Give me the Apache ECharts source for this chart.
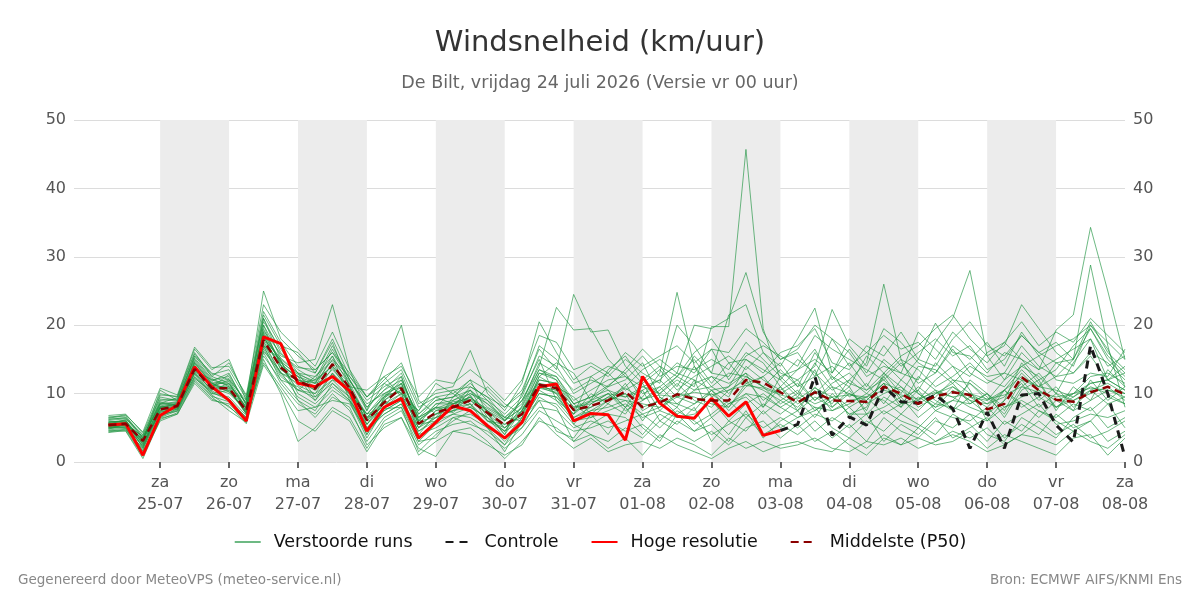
<!DOCTYPE html>
<html>
<head>
<meta charset="utf-8">
<script src="https://cdn.jsdelivr.net/npm/echarts@6/dist/echarts.min.js"></script>
<style>html,body{margin:0;padding:0;background:#fff;}#c{width:1200px;height:600px;}</style>
</head>
<body>
<div id="c"></div>
<script>
// Time in days since 24-07 00:00; first value at 24-07 06:00, every 6 hours
var startDay = 0.25, stepDay = 0.25;
var tickDays = [1,2,3,4,5,6,7,8,9,10,11,12,13,14,15];
var tickDayNames = ['za','zo','ma','di','wo','do','vr','za','zo','ma','di','wo','do','vr','za'];
var tickDates = ['25-07','26-07','27-07','28-07','29-07','30-07','31-07','01-08','02-08','03-08','04-08','05-08','06-08','07-08','08-08'];
var shadedDays = [[1,2],[3,4],[5,6],[7,8],[9,10],[11,12],[13,14]];

var hoogResolutie = [5.4,5.6,1.0,6.8,8.3,13.9,11.0,9.0,6.0,18.3, 17.3,11.5,11.0,12.5,10.4,4.5,8.0,9.3,3.5,5.8, 8.2,7.5,5.3,3.5,5.8,11.0,11.4,6.0,7.1,6.9, 3.2,12.5,8.6,6.7,6.4,9.3,6.7,8.8,3.9,4.6];
// control starts where high-resolution ends (index 39)
var controleStart = 39;
var controle = [4.6,5.5,12.5,3.9,6.6,5.4,11.0,8.8,8.6,9.8,7.8,2.0,7.3,2.0,9.8,10.0,5.4,2.9,17.0,10.0,0.7];
var middelste = [5.4,5.6,3.1,7.7,8.2,13.6,10.8,10.8,7.5,17.8, 13.8,11.9,10.7,14.3,10.8,6.1,8.7,10.8,5.6,7.2, 8.0,9.0,7.2,5.4,7.0,11.3,10.8,7.6,8.2,9.0, 10.3,8.0,8.7,9.9,9.2,9.0,9.0,12.0,11.6,10.2, 8.7,10.2,9.0,8.9,8.8,11.0,10.0,8.5,9.6,10.2, 9.8,7.7,8.5,12.4,10.5,9.1,8.8,10.2,11.0,9.9];

var run01 = [5.8,6.0,2.5,8.5,8.8,14.5,11.5,10.2,7.8,19.5, 14.2,12.5,11.0,15.5,11.2,5.5,9.2,12.0,6.5,8.0, 7.2,9.8,6.0,4.5,8.2,13.5,12.0,8.5,9.5,11.2, 13.0,9.0,10.5,12.5,11.0,19.8,19.8,45.7,19.5,12.0, 9.5,13.5,8.0,10.5,7.5,13.0,11.0,9.0,12.0,14.0, 10.5,6.0,9.0,14.5,11.5,8.0,10.0,12.5,13.0,11.5];
var run02 = [5.2,5.0,3.5,7.0,8.0,13.0,10.5,11.5,8.0,17.0, 15.0,13.0,9.5,13.0,10.0,7.0,8.0,9.5,6.0,6.5, 9.0,10.5,8.0,6.5,6.0,10.0,9.5,7.0,10.0,8.5, 11.5,7.5,9.0,8.5,10.5,11.0,9.5,14.0,12.0,10.5, 12.0,9.0,11.5,13.0,10.5,12.0,9.5,10.5,14.5,12.0, 11.5,9.0,12.0,16.0,13.5,19.3,21.5,34.3,25.0,15.0];
var run03 = [6.2,6.5,4.0,9.5,9.0,15.0,12.0,12.5,8.5,21.0, 16.0,13.5,12.0,17.0,12.0,8.0,10.5,13.0,7.0,9.0, 9.5,11.5,9.0,7.0,9.5,15.5,14.0,10.0,11.5,13.0, 10.5,12.0,14.0,11.0,15.5,13.0,12.5,16.0,14.5,11.0, 13.5,16.5,12.0,14.5,11.0,15.0,13.0,12.0,17.5,21.0, 28.0,15.5,12.0,14.0,12.5,10.0,14.5,18.0,12.0,14.0];
var run04 = [4.8,5.5,1.5,6.5,7.5,12.5,10.0,9.5,6.8,16.5, 12.5,10.5,10.0,12.0,9.5,4.0,7.5,9.0,4.5,6.0, 7.0,8.0,6.5,3.5,6.5,11.0,10.0,6.0,7.5,8.0, 9.0,7.0,8.0,9.5,8.5,10.0,8.0,11.5,10.5,9.0, 7.5,11.0,8.5,12.0,14.5,26.0,15.0,10.0,8.5,11.0, 9.0,7.0,10.5,13.5,11.0,12.5,15.0,28.8,17.0,8.0];
var run05 = [6.0,5.8,3.0,10.5,9.0,15.5,13.0,12.0,9.0,25.0, 18.0,15.5,13.5,16.0,13.0,9.5,12.0,14.5,8.5,10.0, 10.5,11.0,9.5,8.0,10.5,16.5,13.5,24.5,19.0,19.3, 14.0,11.5,13.5,10.5,12.5,14.0,15.5,13.5,16.0,14.0, 18.0,22.5,13.0,16.5,13.0,17.0,14.0,16.0,18.0,15.5, 17.0,13.5,15.0,18.5,16.0,14.5,15.0,20.5,16.0,13.5];
var run06 = [5.5,6.2,2.0,8.0,8.5,14.0,11.0,11.0,7.5,18.5, 13.5,12.0,10.5,14.5,10.5,6.0,9.0,11.0,5.0,7.5, 8.5,9.0,7.0,5.0,7.0,12.0,11.5,8.0,8.5,10.0, 8.0,9.5,13.0,24.8,14.0,11.0,13.0,12.5,11.0,8.5, 10.0,8.5,9.5,7.0,8.0,12.5,9.0,7.5,10.0,11.5, 8.5,10.0,7.5,12.0,9.0,11.0,8.0,10.5,11.5,10.0];
var run07 = [5.0,5.2,1.8,7.5,8.0,13.5,11.5,10.5,7.0,20.0, 15.5,14.5,15.0,23.0,13.5,7.5,14.0,20.0,9.0,7.0, 8.0,9.5,7.5,6.0,9.0,14.0,22.6,19.3,19.5,15.0, 12.5,11.0,12.0,14.5,13.0,16.5,12.0,15.5,17.0,15.5, 14.0,18.5,16.5,15.0,13.5,12.0,14.5,11.5,13.0,16.5, 13.0,11.5,13.0,17.0,14.0,12.5,13.0,16.0,14.5,12.0];
var run08 = [4.5,4.8,1.0,6.0,7.0,11.5,9.0,8.5,6.0,15.0, 10.0,3.0,5.0,8.0,6.5,2.0,6.0,7.5,2.5,4.5, 5.5,6.0,4.0,2.0,4.0,7.5,6.0,4.5,5.0,6.0, 4.5,5.5,3.5,6.0,4.5,5.5,3.0,6.5,4.0,5.5, 4.0,6.0,3.5,5.5,3.0,6.5,4.5,3.5,6.0,5.0, 7.0,4.0,3.0,6.5,5.0,3.5,6.5,8.0,5.0,6.5];
var run09 = [6.8,7.0,4.2,10.0,9.5,16.0,12.5,14.5,9.5,20.5, 16.5,13.0,11.5,15.0,12.5,9.0,11.0,12.5,6.0,8.5, 9.0,10.0,8.5,6.0,8.0,13.0,12.5,8.5,6.5,8.5, 7.0,10.5,6.0,8.0,5.5,7.0,9.0,6.5,8.5,7.0, 9.0,6.5,10.0,8.0,9.5,7.0,8.5,11.0,9.0,7.5, 9.5,8.0,10.5,8.5,6.5,9.0,7.5,9.0,10.5,9.5];
var run10 = [5.6,5.4,3.8,8.2,8.6,14.8,11.8,13.0,8.2,19.0, 14.8,10.0,8.5,11.0,9.0,5.0,7.0,8.5,4.0,5.0, 6.5,7.0,5.5,3.0,5.5,9.0,8.5,5.5,4.0,3.0, 5.0,3.5,6.0,4.5,3.0,4.5,2.5,5.0,6.0,3.5, 5.5,3.0,4.5,2.5,1.0,3.5,2.5,5.0,3.0,4.5, 3.5,5.0,2.5,4.0,6.0,4.0,5.5,3.5,4.5,6.0];
var run11 = [5.3,5.5,2.8,7.2,8.0,13.8,10.2,9.0,6.5,17.0, 12.0,11.0,9.0,13.0,10.5,5.0,8.0,10.0,3.5,6.0, 8.0,11.0,9.5,6.5,9.0,11.5,10.0,7.0,9.0,11.0, 12.0,14.5,9.5,8.0,12.0,6.5,8.5,10.0,8.0,11.0, 8.5,10.0,12.5,9.5,11.5,8.5,12.0,10.0,8.0,9.0, 11.5,9.5,7.0,11.0,13.0,10.0,7.5,12.0,9.0,11.0];
var run12 = [4.6,4.5,0.5,6.2,7.2,12.0,9.5,7.5,5.8,16.0, 11.5,8.5,7.0,10.0,7.5,3.0,6.5,8.0,1.5,4.0, 6.0,7.5,5.0,2.5,5.0,9.5,8.0,3.0,5.5,7.0, 6.5,4.0,7.0,5.5,8.0,3.0,6.0,4.5,7.5,5.0, 6.5,8.0,5.0,3.5,6.0,4.5,7.0,5.5,4.0,7.0, 5.5,3.0,6.0,4.5,7.5,6.0,4.5,6.0,8.5,5.0];
var run13 = [6.4,6.8,3.5,9.0,9.2,15.2,12.2,11.0,8.8,21.5, 17.0,16.0,13.0,17.5,11.0,10.5,12.5,9.5,7.5,10.5, 11.0,16.3,10.0,7.5,11.5,20.5,16.0,12.0,14.0,12.5, 15.0,13.0,11.5,20.0,17.0,13.0,21.5,23.0,16.0,13.0, 12.0,14.0,22.3,17.0,14.0,19.5,17.5,14.5,13.0,17.0, 15.0,17.5,14.0,19.0,15.5,17.0,18.0,20.0,17.5,15.0];
var run14 = [5.9,6.0,3.2,8.0,8.4,13.2,11.2,11.8,7.2,17.5, 13.0,11.5,12.0,14.0,11.5,6.5,9.5,10.5,6.5,8.0, 10.5,8.5,6.0,5.5,6.5,12.5,11.0,9.5,7.0,9.0, 10.0,8.0,9.0,11.5,9.0,8.0,10.5,12.0,9.0,11.0, 7.5,9.5,8.0,10.0,8.5,10.0,11.0,8.0,9.5,12.0, 10.0,8.5,9.5,13.0,10.5,9.0,10.0,11.5,12.0,10.5];
var run15 = [5.1,5.3,2.2,7.8,8.2,14.2,10.8,10.0,7.6,18.8, 14.5,12.0,11.5,12.5,10.0,7.0,9.5,11.5,5.5,7.0, 8.5,9.5,7.0,4.0,7.5,11.0,10.5,6.5,8.0,9.5, 11.0,13.5,15.0,13.0,20.0,19.5,21.0,27.7,19.0,15.0, 16.0,12.5,18.0,16.0,12.5,14.0,13.0,19.0,16.5,14.0, 12.5,16.0,17.5,15.0,12.0,13.5,17.0,19.5,15.5,13.0];
var run16 = [4.9,5.0,1.2,6.8,7.6,12.8,9.8,8.0,6.2,15.5, 12.0,9.0,6.5,9.5,8.0,2.5,5.0,6.5,2.0,0.8, 4.5,5.0,3.0,0.5,3.0,6.0,5.0,3.0,4.0,2.0, 3.5,1.0,4.0,2.5,1.5,0.5,2.0,3.0,1.5,2.5, 3.0,2.0,1.5,3.5,2.0,4.0,2.5,3.5,2.5,3.0, 4.5,2.0,4.0,3.0,2.0,1.0,3.5,4.0,1.0,3.5];
var run17 = [6.1,6.3,3.9,9.2,8.9,14.0,11.0,12.8,8.4,18.0, 15.2,13.0,12.5,14.8,11.8,8.5,10.0,11.5,7.0,9.5, 8.5,10.0,9.0,6.0,9.0,13.5,12.5,9.0,10.5,12.0, 12.5,10.0,11.0,13.0,12.0,10.5,11.0,15.0,13.5,12.0, 15.0,13.0,10.5,12.0,10.0,12.5,15.0,13.5,11.0,12.5, 14.5,12.0,11.0,14.0,15.5,12.0,11.5,13.0,12.5,16.5];
var run18 = [5.7,5.9,2.6,7.4,7.8,13.0,10.0,10.5,7.2,16.8, 12.8,10.5,9.5,11.5,9.5,6.0,8.5,9.0,5.0,6.5, 7.5,8.0,6.5,4.5,6.0,10.5,9.0,6.0,6.5,7.5, 8.5,6.5,7.5,6.5,7.0,9.0,6.0,8.5,10.0,8.0, 6.5,7.5,9.5,7.0,7.0,8.0,9.5,6.5,8.5,8.0, 7.0,6.0,8.0,9.0,7.5,6.5,8.5,7.5,9.5,8.5];
var run19 = [5.4,5.6,3.3,8.8,8.3,13.4,12.0,11.2,8.0,17.2, 13.0,12.0,11.0,13.5,10.8,6.5,9.0,10.5,6.0,8.0, 8.0,9.0,7.5,5.0,7.5,11.5,11.0,8.0,9.0,10.0, 9.5,11.0,10.0,12.0,10.5,12.5,11.5,13.0,11.0,13.5, 11.0,12.5,14.0,11.5,10.5,13.0,15.5,17.0,19.5,21.5, 18.0,15.5,17.0,23.0,19.5,16.0,14.0,20.0,16.5,11.0];
var run20 = [4.4,4.7,2.0,7.0,7.4,12.2,10.4,9.2,6.5,14.5, 11.0,7.5,8.0,9.0,8.5,4.5,7.0,8.5,3.0,5.5, 7.0,6.5,5.0,3.5,5.0,8.0,7.5,5.0,6.0,5.0, 6.0,7.0,5.0,7.5,6.0,4.0,5.5,7.0,5.0,6.5, 5.0,7.0,6.0,8.0,5.5,7.5,6.0,5.0,7.5,6.5, 6.0,8.0,5.5,7.0,8.5,5.5,6.0,7.0,6.5,7.5];
var run21 = [6.6,6.6,3.6,8.6,9.4,15.8,12.8,13.5,9.2,22.0, 17.5,14.0,13.0,18.0,12.5,9.5,11.5,13.5,8.0,9.5, 10.0,12.0,10.5,8.0,10.0,17.0,15.0,11.5,12.5,14.0, 13.0,15.5,12.5,14.0,13.5,15.0,13.5,17.5,15.0,12.5, 13.5,15.0,13.0,18.0,16.0,14.5,12.0,15.0,20.3,16.0, 15.5,13.0,16.0,15.0,13.5,15.0,16.5,18.0,14.0,15.5];
var run22 = [5.0,5.1,2.4,7.6,7.9,13.0,10.6,10.8,7.0,17.6, 14.0,11.8,10.5,12.8,9.8,5.5,8.5,10.0,5.0,7.5, 8.0,8.5,6.0,5.0,7.0,11.0,10.5,7.5,8.0,9.5, 9.0,8.5,8.0,10.0,9.5,8.5,8.0,11.0,12.5,9.5, 8.0,10.5,7.5,9.0,9.5,11.5,8.5,9.0,10.5,9.5, 8.0,7.0,9.0,11.5,8.0,10.0,9.0,10.0,11.0,9.0];
var run23 = [5.5,5.7,2.9,7.9,8.1,13.6,11.1,10.3,7.4,18.2, 14.8,12.5,9.0,12.0,11.0,6.5,7.5,9.0,4.5,6.5, 7.5,8.5,5.0,1.5,6.0,10.0,9.5,6.5,7.5,9.0, 10.0,6.0,9.5,7.0,8.5,10.5,7.5,10.0,9.5,8.0, 9.5,8.0,7.5,8.5,10.0,9.0,7.0,9.5,8.0,10.5, 9.0,8.5,10.5,8.0,9.5,8.0,9.5,11.0,10.0,8.5];
var run24 = [6.3,6.4,3.4,8.4,8.7,14.4,11.4,12.2,8.6,19.2, 15.8,13.8,13.5,16.0,12.0,8.0,10.5,12.0,6.5,9.0, 9.5,10.5,8.5,6.5,8.5,14.5,13.0,10.5,12.0,11.0, 13.5,16.5,14.0,12.5,16.0,18.0,14.5,15.0,13.0,16.0, 17.0,19.5,14.5,13.5,17.0,15.5,19.0,15.0,14.0,18.0, 20.5,17.0,15.5,18.5,16.0,17.5,15.0,19.5,15.0,12.5];
var run25 = [5.2,5.4,2.7,8.0,8.5,15.5,12.5,11.5,7.8,21.0, 15.0,9.0,7.5,11.5,9.0,4.0,9.5,12.5,5.5,6.0, 9.5,12.0,7.0,4.0,10.0,15.0,9.0,7.0,12.5,10.5, 8.0,11.5,7.5,10.0,14.0,9.5,11.0,13.0,8.0,12.5, 10.0,14.5,11.0,6.5,9.0,11.5,8.0,12.5,10.5,7.5, 12.0,10.0,6.5,10.5,12.0,7.5,11.0,9.0,13.5,11.0];
var run26 = [5.8,6.1,3.0,9.8,9.6,16.5,13.5,15.0,9.0,20.0, 14.0,12.5,11.5,16.5,12.0,7.5,11.5,10.0,7.5,11.5, 10.0,8.0,11.0,8.5,7.0,12.5,14.5,13.0,9.0,13.5, 15.5,12.0,10.0,12.5,15.0,11.5,14.5,11.5,12.5,14.5, 11.0,16.0,12.5,11.0,15.5,13.0,10.0,14.0,13.5,11.5, 14.0,12.5,13.0,12.0,11.0,14.5,13.0,15.5,12.0,13.0];
var run27 = [4.7,4.9,1.6,6.6,7.8,12.4,9.6,8.8,6.4,16.2, 13.2,9.5,8.0,10.5,8.8,3.5,7.8,8.0,3.0,3.5, 6.5,5.5,4.5,2.5,6.5,9.0,4.5,3.5,7.0,4.0, 8.0,5.0,3.0,7.0,4.5,6.5,4.0,7.5,3.5,6.0, 7.5,4.5,6.5,5.0,7.0,3.0,5.5,4.0,6.5,3.5, 5.0,6.5,3.5,5.5,4.0,7.0,5.0,6.0,3.0,4.5];
var run28 = [5.6,5.8,3.6,8.6,8.2,14.6,11.6,11.4,7.8,18.6, 14.6,12.8,11.8,14.0,10.8,7.0,10.0,11.0,5.5,8.5, 8.5,9.5,7.5,5.5,7.5,12.0,11.5,8.5,9.5,10.5, 9.5,10.5,12.0,9.5,11.5,12.5,10.0,12.5,11.0,10.0, 11.5,9.0,11.0,10.0,9.0,11.5,10.5,8.5,10.0,11.0, 9.5,9.0,10.5,12.5,11.0,10.5,9.5,11.5,12.0,10.5];
var run29 = [5.0,5.5,2.3,7.3,7.7,13.3,11.3,10.8,7.1,17.9, 14.2,10.5,12.5,15.5,9.0,5.5,8.0,11.5,4.0,7.0, 7.5,10.5,6.5,4.5,7.5,13.0,12.0,5.5,8.5,10.0, 7.5,9.0,11.0,8.5,7.5,10.5,8.5,9.5,7.0,9.0, 10.5,7.5,9.0,11.0,7.0,9.5,8.0,10.5,7.5,9.0, 8.5,10.0,8.0,9.5,10.5,8.0,9.0,10.5,8.5,9.5];
var run30 = [6.5,6.9,4.4,10.8,9.8,16.8,13.8,14.0,9.8,23.0, 19.0,16.5,14.0,19.0,13.5,9.5,12.5,14.0,9.5,12.0, 11.5,13.5,11.5,9.0,12.0,18.5,17.5,13.5,14.5,13.0, 16.0,14.0,15.5,17.0,14.5,16.5,16.0,19.5,17.5,15.0, 16.5,20.0,18.0,14.0,16.0,18.5,16.5,17.5,15.0,19.0, 16.5,14.5,17.5,20.5,17.0,19.0,17.5,21.0,18.5,16.0];
var run31 = [4.3,4.6,0.8,6.4,7.0,11.8,9.2,8.2,5.6,14.2, 10.5,6.0,4.5,7.5,6.0,1.5,5.5,6.5,1.0,3.0, 4.5,4.0,2.5,1.0,2.5,6.5,4.0,2.0,3.5,1.5, 2.5,3.0,2.0,3.5,2.5,1.0,3.5,2.0,3.0,2.0, 2.5,3.5,2.0,1.5,3.0,2.5,3.5,2.0,3.0,4.0, 3.0,1.5,2.5,4.0,3.5,2.5,4.5,3.0,2.0,4.0];
var run32 = [5.7,5.6,3.2,8.1,8.0,13.7,11.0,12.0,7.9,18.4, 13.6,11.2,10.0,13.8,10.2,6.2,9.8,10.2,6.2,7.8, 8.8,9.2,7.8,6.2,7.8,10.8,10.2,7.8,8.8,9.2, 10.8,9.2,9.8,9.5,10.2,9.8,10.5,11.2,10.8,9.8, 9.2,10.8,9.5,9.8,9.5,10.5,9.8,9.2,10.2,9.5, 10.0,9.2,9.8,11.0,10.2,9.5,10.0,10.8,10.5,10.0];
var verstoordeRuns = [run01,run02,run03,run04,run05,run06,run07,run08,run09,run10,run11,run12,run13,run14,run15,run16,run17,run18,run19,run20,run21,run22,run23,run24,run25,run26,run27,run28,run29,run30,run31,run32];

function toXY(arr, offset) {
  offset = offset || 0;
  return arr.map(function (v, i) { return [startDay + (i + offset) * stepDay, v]; });
}

var series = [];
verstoordeRuns.forEach(function (r, k) {
  var s = {
    name: 'Verstoorde runs', type: 'line', data: toXY(r), showSymbol: false, symbol: 'none',
    lineStyle: { color: '#1f9440', width: 1, opacity: 0.65 }, itemStyle: { color: '#7cc48a' },
    silent: true, z: 2, animation: false
  };
  if (k === 0) {
    s.markArea = {
      silent: true,
      itemStyle: { color: '#ececec' },
      data: shadedDays.map(function (d) { return [{ xAxis: d[0] }, { xAxis: d[1] }]; })
    };
  }
  series.push(s);
});
series.push({
  name: 'Hoge resolutie', type: 'line', data: toXY(hoogResolutie), showSymbol: false, symbol: 'none',
  lineStyle: { color: '#ff0000', width: 3 }, itemStyle: { color: '#ff0000' }, z: 4, animation: false
});
series.push({
  name: 'Controle', type: 'line', data: toXY(controle, controleStart), showSymbol: false, symbol: 'none',
  lineStyle: { color: '#1a1a1a', width: 3, type: [8, 6] }, itemStyle: { color: '#1a1a1a' }, z: 5, animation: false
});
series.push({
  name: 'Middelste (P50)', type: 'line', data: toXY(middelste), showSymbol: false, symbol: 'none',
  lineStyle: { color: '#8b0000', width: 2.5, type: [8, 5] }, itemStyle: { color: '#8b0000' }, z: 6, animation: false
});

var xLabelFmt = function (v) {
  var i = tickDays.indexOf(Math.round(v));
  return i < 0 ? '' : tickDayNames[i] + '\n' + tickDates[i];
};

var yAxisCommon = {
  type: 'value', min: 0, max: 50, interval: 10,
  axisLine: { show: false }, axisTick: { show: false },
  axisLabel: { color: '#555', fontSize: 16, fontFamily: 'DejaVu Sans', margin: 8 },
  splitLine: { lineStyle: { color: '#dcdcdc' } }
};

var chart = echarts.init(document.getElementById('c'), null, { renderer: 'canvas' });
chart.setOption({
  backgroundColor: '#fff',
  animation: false,
  title: {
    text: 'Windsnelheid (km/uur)',
    subtext: 'De Bilt, vrijdag 24 juli 2026 (Versie vr 00 uur)',
    left: 'center', top: 24, itemGap: 16,
    textStyle: { fontFamily: 'DejaVu Sans', fontSize: 29, fontWeight: 'normal', color: '#333' },
    subtextStyle: { fontFamily: 'DejaVu Sans', fontSize: 17.5, color: '#666' }
  },
  legend: {
    bottom: 44, left: 'center', itemWidth: 26, itemHeight: 14, itemGap: 32,
    itemStyle: { opacity: 0 },
    textStyle: { fontFamily: 'DejaVu Sans', fontSize: 17.5, color: '#111', padding: [0, 0, 0, 8] },
    data: ['Verstoorde runs', 'Controle', 'Hoge resolutie', 'Middelste (P50)']
  },
  grid: { left: 74, right: 75, top: 120, bottom: 138 },
  xAxis: {
    type: 'value', min: -0.25, max: 15,
    axisLine: { show: false },
    axisTick: { show: true, customValues: tickDays, length: 6, lineStyle: { color: '#666', width: 2 } },
    axisLabel: { customValues: tickDays, formatter: xLabelFmt, color: '#555', fontSize: 16, fontFamily: 'DejaVu Sans', lineHeight: 22, margin: 10 },
    splitLine: { show: false }
  },
  yAxis: [
    Object.assign({}, yAxisCommon, { position: 'left' }),
    Object.assign({}, yAxisCommon, { position: 'right', splitLine: { show: false } })
  ],
  graphic: [
    { type: 'text', left: 18, top: 573, style: { text: 'Gegenereerd door MeteoVPS (meteo-service.nl)', fill: '#888', font: '13.5px "DejaVu Sans"' } },
    { type: 'text', right: 18, top: 573, style: { text: 'Bron: ECMWF AIFS/KNMI Ens', fill: '#888', font: '13.5px "DejaVu Sans"' } }
  ],
  series: series
});
</script>
</body>
</html>
